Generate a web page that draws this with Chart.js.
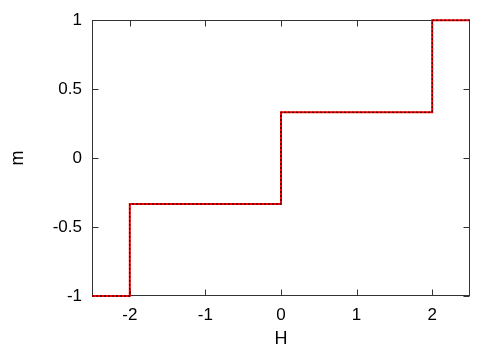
<!DOCTYPE html>
<html>
<head>
<meta charset="utf-8">
<script src="https://cdn.jsdelivr.net/npm/chart.js@4"></script>
<style>
html,body{margin:0;padding:0;background:#fff;}
canvas{display:block;}
</style>
</head>
<body>
<canvas id="c" width="500" height="350"></canvas>
<script>
// Data
const H = [-2.5, -2, -2, 0, 0, 2, 2, 2.5];
const m = [-1, -1, -0.333, -0.333, 0.333, 0.333, 1, 1];
const xTicks = [-2, -1, 0, 1, 2];
const yTicks = [-1, -0.5, 0, 0.5, 1];

const pts = H.map((h, i) => ({x: h, y: m[i]}));
const FONT = "'Liberation Sans', Arial, Helvetica, sans-serif";

const framePlugin = {
  id: 'frame',
  beforeDatasetsDraw(chart) {
    const {ctx, chartArea: a, scales} = chart;
    ctx.save();
    ctx.strokeStyle = '#333';
    ctx.lineWidth = 1;
    const L = Math.round(a.left) + 0.5, R = Math.round(a.right) - 0.5;
    const T = Math.round(a.top) + 0.5, B = Math.round(a.bottom) - 0.5;
    ctx.strokeRect(L, T, R - L, B - T);
    const len = 6;
    ctx.beginPath();
    xTicks.forEach(v => {
      const px = Math.round(scales.x.getPixelForValue(v)) + 0.5;
      ctx.moveTo(px, B); ctx.lineTo(px, B - len);
      ctx.moveTo(px, T); ctx.lineTo(px, T + len);
    });
    yTicks.forEach(v => {
      const py = Math.round(scales.y.getPixelForValue(v)) + 0.5;
      ctx.moveTo(L, py); ctx.lineTo(L + len, py);
      ctx.moveTo(R, py); ctx.lineTo(R - len, py);
    });
    ctx.stroke();
    ctx.restore();
  }
};

new Chart(document.getElementById('c'), {
  type: 'scatter',
  data: {
    datasets: [
      {
        data: pts, showLine: true, borderColor: '#ff0000', borderWidth: 2,
        pointRadius: 0, fill: false, clip: 3, order: 2
      },
      {
        data: pts, showLine: true, borderColor: '#000000', borderWidth: 1,
        borderDash: [2, 2], pointRadius: 0, fill: false, clip: 3, order: 1
      }
    ]
  },
  options: {
    responsive: false,
    animation: false,
    devicePixelRatio: 1,
    layout: {padding: {left: 0, right: 30, top: 20, bottom: 0}},
    plugins: {legend: {display: false}, tooltip: {enabled: false}},
    scales: {
      x: {
        type: 'linear', min: -2.5, max: 2.5,
        grid: {display: false, drawTicks: false},
        border: {display: false},
        afterBuildTicks: s => { s.ticks = xTicks.map(v => ({value: v})); },
        afterFit: s => { s.height = 54; },
        ticks: {autoSkip: false, padding: 9, color: '#000', font: {family: FONT, size: 17}, maxRotation: 0,
          callback: v => String(v)},
        title: {display: true, text: 'H', color: '#000', font: {family: FONT, size: 18}, padding: {top: 0, bottom: 0}}
      },
      y: {
        type: 'linear', min: -1, max: 1,
        grid: {display: false, drawTicks: false},
        border: {display: false},
        afterBuildTicks: s => { s.ticks = yTicks.map(v => ({value: v})); },
        afterFit: s => { s.width = 92; },
        ticks: {autoSkip: false, padding: 10, color: '#000', font: {family: FONT, size: 17},
          callback: v => String(v)},
        title: {display: true, text: 'm', color: '#000', font: {family: FONT, size: 18}, padding: {top: 7, bottom: 0}}
      }
    }
  },
  plugins: [framePlugin]
});
</script>
</body>
</html>
